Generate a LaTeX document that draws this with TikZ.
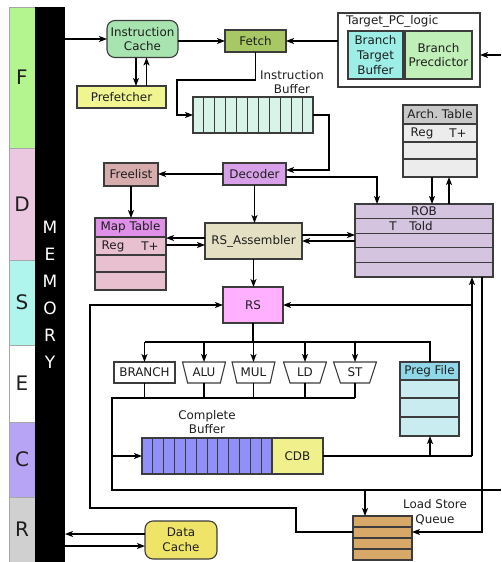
\documentclass[tikz,border=0pt]{standalone}
\usepackage{fontspec}
\setmainfont{DejaVu Sans}
\usetikzlibrary{arrows.meta,shapes.geometric,calc}

\definecolor{edge}{RGB}{60,60,60}
\definecolor{txt}{RGB}{30,30,30}
\definecolor{stF}{RGB}{180,245,144}
\definecolor{stD}{RGB}{236,200,224}
\definecolor{stS}{RGB}{176,244,238}
\definecolor{stC}{RGB}{184,164,244}
\definecolor{stR}{RGB}{208,208,208}
\definecolor{icc}{RGB}{168,228,176}
\definecolor{prec}{RGB}{240,245,144}
\definecolor{fetchc}{RGB}{168,200,100}
\definecolor{btbc}{RGB}{156,238,230}
\definecolor{bpc}{RGB}{192,240,184}
\definecolor{ibc}{RGB}{216,244,232}
\definecolor{decc}{RGB}{216,160,232}
\definecolor{freec}{RGB}{214,172,172}
\definecolor{rsac}{RGB}{228,224,196}
\definecolor{maphead}{RGB}{224,144,232}
\definecolor{maprow}{RGB}{232,192,208}
\definecolor{robc}{RGB}{212,196,224}
\definecolor{archhead}{RGB}{200,200,200}
\definecolor{archrow}{RGB}{236,236,236}
\definecolor{rsc}{RGB}{255,176,255}
\definecolor{preghead}{RGB}{144,216,232}
\definecolor{pregrow}{RGB}{200,236,240}
\definecolor{cbc}{RGB}{144,144,248}
\definecolor{cdbc}{RGB}{240,240,140}
\definecolor{lsqc}{RGB}{216,168,104}
\definecolor{dcc}{RGB}{240,228,104}

\begin{document}
\begin{tikzpicture}[x=1pt,y=-1pt,
  font=\fontsize{11.9}{14.8}\selectfont,
  box/.style={draw=edge, line width=1.1pt, inner sep=0pt, outer sep=0pt,
    align=center, text=txt},
  rowline/.style={draw=edge, line width=1.1pt},
  cellline/.style={draw=edge, line width=0.9pt},
  wire/.style={line width=1.2pt, draw=black},
  arr/.style={wire, -{Stealth[length=8pt,width=6pt,inset=2pt]}},
  stage/.style={draw=gray!70, line width=0.6pt, inner sep=0pt, outer sep=0pt,
    minimum width=26pt, anchor=north west, font=\fontsize{20}{22}\selectfont, text=txt},
  unit/.style={draw=edge, line width=1.1pt, fill=white, text=txt, inner sep=1pt,
    outer sep=0pt, trapezium, trapezium angle=70, shape border rotate=180,
    trapezium stretches=true, minimum width=43pt, minimum height=21pt},
  lbl/.style={text=txt, align=center, inner sep=0pt}
]
\useasboundingbox (0,0) rectangle (501,562);

% pipeline stages and memory column
\node[stage, fill=stF, minimum height=141pt] (sF) at (9,7) {F};
\node[stage, fill=stD, minimum height=112pt] (sD) at (9,148) {D};
\node[stage, fill=stS, minimum height=85pt] (sS) at (9,260) {S};
\node[stage, fill=white, minimum height=77pt] (sE) at (9,345) {E};
\node[stage, fill=stC, minimum height=75pt] (sC) at (9,422) {C};
\node[stage, fill=stR, minimum height=65pt] (sR) at (9,497) {R};
\node[fill=black, inner sep=0pt, outer sep=0pt, minimum width=30pt,
  minimum height=555pt, anchor=north west] (mem) at (35,7) {};
\node[text=white, align=center, inner sep=0pt, font=\fontsize{17}{27}\selectfont]
  (memtxt) at (50,295) {M\\E\\M\\O\\R\\Y};

% fetch stage
\node[box, fill=icc, rounded corners=8pt, minimum width=71pt, minimum height=37pt]
  (ic) at (142.5,39) {Instruction\\Cache};
\node[box, fill=prec, minimum width=89pt, minimum height=22pt] (pre) at (121.5,97) {Prefetcher};
\node[box, fill=fetchc, minimum width=61pt, minimum height=22pt] (fetch) at (255.5,41) {Fetch};
\node[draw=edge, line width=1.1pt, fill=white, inner sep=0pt, outer sep=0pt,
  minimum width=142pt, minimum height=74pt] (tpc) at (409,50) {};
\node[lbl, anchor=west] (tpclbl) at (346,21) {Target\_PC\_logic};
\node[box, fill=btbc, minimum width=55pt, minimum height=48pt] (btb) at (375.5,55)
  {Branch\\Target\\Buffer};
\node[box, fill=bpc, minimum width=67pt, minimum height=48pt] (bp) at (438.5,55)
  {Branch\\Precdictor};
\coordinate (bpsrc) at (501,55);

% instruction buffer
\node[box, fill=ibc, minimum width=120pt, minimum height=36pt] (ib) at (253,115) {};
\foreach \i in {1,...,10}
  \draw[cellline] ($(ib.north west)+(\i*120/11,0)$) -- ++(0,36);
\node[lbl] (iblbl) at (292,82) {Instruction\\Buffer};

% decode stage
\node[box, fill=decc, minimum width=63pt, minimum height=22pt] (dec) at (254.5,174) {Decoder};
\node[box, fill=freec, minimum width=54pt, minimum height=23pt] (free) at (131,174.5) {Freelist};
\node[box, fill=rsac, minimum width=97pt, minimum height=36pt] (rsa) at (253.5,241) {RS\_Assembler};

% map table
\node[box, fill=maprow, minimum width=71pt, minimum height=72pt, anchor=north west]
  (map) at (95,218) {};
\node[box, fill=maphead, minimum width=71pt, minimum height=19pt, anchor=north west]
  (maph) at (95,218) {Map Table};
\draw[rowline] (95,255) -- (166,255) (95,272) -- (166,272);
\node[lbl] at (113,246) {Reg};
\node[lbl] at (150,246) {T+};

% architectural table
\node[box, fill=archrow, minimum width=74pt, minimum height=72pt, anchor=north west]
  (arch) at (403,105) {};
\node[box, fill=archhead, minimum width=74pt, minimum height=19pt, anchor=north west]
  (archh) at (403,105) {Arch.\ Table};
\draw[rowline] (403,142) -- (477,142) (403,159) -- (477,159);
\node[lbl] at (422,133) {Reg};
\node[lbl] at (458,133) {T+};

% reorder buffer
\node[box, fill=robc, minimum width=138pt, minimum height=73pt, anchor=north west]
  (rob) at (355,204) {};
\foreach \y in {218.6,233.2,247.8,262.4}
  \draw[rowline] (355,\y) -- (493,\y);
\node[lbl] at (424,211.5) {ROB};
\node[lbl] at (393,226) {T};
\node[lbl] at (421,226) {Told};

% reservation station and functional units
\node[box, fill=rsc, minimum width=60pt, minimum height=36pt] (rs) at (253,305) {RS};
\node[box, fill=white, minimum width=61pt, minimum height=21pt] (branch) at (144.5,372.5) {BRANCH};
\node[unit] (alu) at (204,372.5) {ALU};
\node[unit] (mul) at (253.5,372.5) {MUL};
\node[unit] (ld) at (305,372.5) {LD};
\node[unit] (st) at (355,372.5) {ST};

% physical register file
\node[box, fill=pregrow, minimum width=59pt, minimum height=74pt, anchor=north west]
  (preg) at (400,362) {};
\node[box, fill=preghead, minimum width=59pt, minimum height=18pt, anchor=north west]
  (pregh) at (400,362) {Preg File};
\draw[rowline] (400,398) -- (459,398) (400,417) -- (459,417);

% complete buffer and CDB
\node[box, fill=cbc, minimum width=130pt, minimum height=36pt, anchor=north west]
  (cb) at (142,438) {};
\foreach \i in {1,...,11}
  \draw[cellline] ($(cb.north west)+(\i*130/12,0)$) -- ++(0,36);
\node[box, fill=cdbc, minimum width=51pt, minimum height=36pt, anchor=north west]
  (cdb) at (272,438) {CDB};
\node[lbl] (cblbl) at (207,422) {Complete\\Buffer};

% load store queue and data cache
\node[box, fill=lsqc, minimum width=59pt, minimum height=44pt, anchor=north west]
  (lsq) at (353,516) {};
\draw[rowline] (353,527) -- (412,527) (353,538) -- (412,538) (353,549) -- (412,549);
\node[lbl] (lsqlbl) at (435,512) {Load Store\\Queue};
\node[box, fill=dcc, rounded corners=8pt, minimum width=72pt, minimum height=38pt]
  (dc) at (181,540) {Data\\Cache};

% ---- connections ----
\draw[arr] (mem.east |- ic.west) -- (ic.west);
\draw[arr] (ic.east |- fetch.west) -- (fetch.west);
\draw[arr] ([xshift=-6.5pt]ic.south) -- ([xshift=-6.5pt]ic.south |- pre.north);
\draw[arr] ([xshift=4pt]ic.south |- pre.north) -- ([xshift=4pt]ic.south);
\draw[arr] (tpc.west |- fetch.east) -- (fetch.east);
\draw[arr] (bpsrc) -- (bpsrc -| tpc.east);

\draw[arr] (fetch.south) |- (177,80) |- (ib.west);
\draw[arr] (ib.east) -| (329,170) -- (dec.east |- 0,170);
\draw[arr] (dec.west) -- (dec.west -| free.east);
\draw[arr] (dec.east |- 0,177) -| (377,0 |- rob.north);
\draw[arr] (dec.south) -- (dec.south |- rsa.north);
\draw[arr] (free.south) -- (free.south |- maph.north);

\draw[arr] (rsa.west |- 0,238) -- (map.east |- 0,238);
\draw[arr] (map.east |- 0,245) -- (rsa.west |- 0,245);
\draw[arr] (rsa.east |- 0,235) -- (rob.west |- 0,235);
\draw[arr] (rob.west |- 0,241) -- (rsa.east |- 0,241);
\draw[arr] (432,0 |- arch.south) -- (432,0 |- rob.north);
\draw[arr] (449,0 |- rob.north) -- (449,0 |- arch.south);

\draw[arr] (rsa.south) -- (rsa.south |- rs.north);
\draw[wire] (rs.south) -- (rs.south |- 0,342);
\draw[wire] (branch.north |- 0,342) -| (430,0 |- pregh.north);
\foreach \u in {branch,alu,mul,ld,st}
  \draw[arr] (\u.north |- 0,342) -- (\u.north);
\foreach \u in {branch,alu,mul,ld,st}
  \draw[wire] (\u.south) -- (\u.south |- 0,398);
\coordinate (wbout) at (501,490);
\draw[wire] (st.south |- 0,398) -- (112,398) |- (wbout);
\draw[arr] (112,0 |- cb.west) -- (cb.west);
\draw[arr] (365,490) -- (365,0 |- lsq.north);

\draw[wire] (cdb.east) -- (472,0 |- cdb.east);
\draw[arr] (472,0 |- cdb.east) -- (472,0 |- rob.south);
\draw[arr] (472,0 |- rs.east) -- (rs.east);
\draw[arr] (430,0 |- cdb.east) -- (430,0 |- preg.south);
\draw[arr] (482,0 |- rob.south) |- (lsq.east |- 0,532);
\draw[arr] (lsq.west |- 0,532) -| (296,508) -| (90,305) -- (rs.west);

\draw[arr] (dc.west |- 0,534) -- (mem.east |- 0,534);
\draw[arr] (mem.east |- 0,546) -- (dc.west |- 0,546);
\end{tikzpicture}
\end{document}
